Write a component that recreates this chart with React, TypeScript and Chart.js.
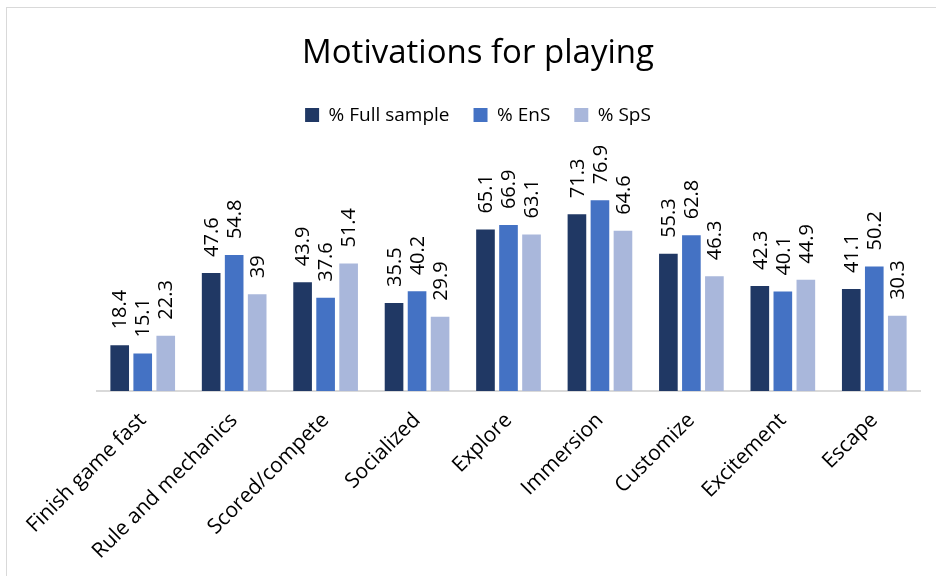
import React, { useEffect, useRef } from "react";
import { Chart, registerables } from "chart.js";

Chart.register(...registerables);

const categories = [
  "Finish game fast",
  "Rule and mechanics",
  "Scored/compete",
  "Socialized",
  "Explore",
  "Immersion",
  "Customize",
  "Excitement",
  "Escape",
];
const fullSample = [18.4, 47.6, 43.9, 35.5, 65.1, 71.3, 55.3, 42.3, 41.1];
const ensValues = [15.1, 54.8, 37.6, 40.2, 66.9, 76.9, 62.8, 40.1, 50.2];
const spsValues = [22.3, 39, 51.4, 29.9, 63.1, 64.6, 46.3, 44.9, 30.3];
const seriesNames = ["% Full sample", "% EnS", "% SpS"];

const FONT = "'Open Sans', 'Noto Sans', sans-serif";

const labelPlugin = {
  id: "barLabels",
  afterDatasetsDraw(chart: any) {
    const ctx = chart.ctx;
    ctx.save();
    ctx.font = `20px ${FONT}`;
    ctx.fillStyle = "#000";
    ctx.textAlign = "left";
    ctx.textBaseline = "middle";
    chart.data.datasets.forEach((ds: any, di: number) => {
      const meta = chart.getDatasetMeta(di);
      meta.data.forEach((bar: any, i: number) => {
        ctx.save();
        ctx.translate(bar.x + 1, bar.y - 16);
        ctx.rotate(-Math.PI / 2);
        ctx.fillText(String(ds.data[i]), 0, 0);
        ctx.restore();
      });
    });
    ctx.restore();
  },
};

export default function App() {
  const ref = useRef<HTMLCanvasElement | null>(null);
  useEffect(() => {
    if (!ref.current) return;
    const colors = ["#203864", "#4472C4", "#A9B7DB"];
    const chart = new Chart(ref.current, {
      type: "bar",
      data: {
        labels: categories,
        datasets: [fullSample, ensValues, spsValues].map((d, i) => ({
          label: seriesNames[i],
          data: d,
          backgroundColor: colors[i],
          borderWidth: 0,
          categoryPercentage: 0.755,
          barPercentage: 0.81,
        })),
      },
      options: {
        animation: false,
        responsive: false,
        devicePixelRatio: 1,
        layout: { padding: { left: 36, right: 16, top: 0, bottom: 0 } },
        plugins: {
          title: {
            display: true,
            text: "Motivations for playing",
            color: "#000",
            font: { family: FONT, size: 33, weight: "normal", lineHeight: 1.2 },
            padding: { top: 34, bottom: 8 },
          },
          legend: {
            display: true,
            position: "top",
            labels: {
              boxWidth: 14,
              boxHeight: 14,
              padding: 24,
              color: "#000",
              font: { family: FONT, size: 19 },
            },
          },
          tooltip: { enabled: false },
        },
        scales: {
          x: {
            grid: { display: false },
            border: { color: "#d9d9d9", width: 2 },
            ticks: {
              color: "#000",
              font: { family: FONT, size: 21 },
              minRotation: 45,
              maxRotation: 45,
              padding: 9,
              autoSkip: false,
            },
            afterFit: (s: any) => {
              s.height = 185;
            },
          },
          y: {
            min: 0,
            max: 103.4,
            display: true,
            grid: { display: false },
            border: { display: false },
            ticks: { display: false },
            afterFit: (s: any) => {
              s.width = 61;
            },
          },
        },
      },
      plugins: [labelPlugin],
    });
    return () => chart.destroy();
  }, []);
  return (
    <div style={{ position: "fixed", left: 0, top: 0, width: 936, height: 576, background: "#fff", overflow: "hidden" }}>
      <div style={{ position: "absolute", left: 6, top: 7, width: 960, height: 600, border: "1px solid #d9d9d9", boxSizing: "border-box" }} />
      <canvas ref={ref} width={936} height={576} style={{ position: "absolute", left: 0, top: 0 }} />
    </div>
  );
}
